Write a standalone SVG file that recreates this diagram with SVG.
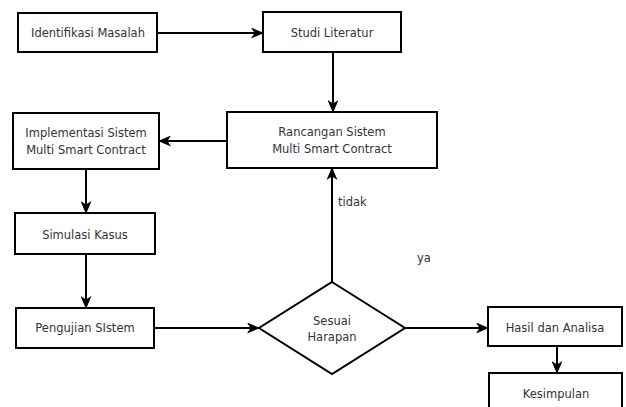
<svg xmlns="http://www.w3.org/2000/svg" width="626" height="407" viewBox="0 0 626 407">
<defs>
<marker id="arr" viewBox="0 0 13 11" refX="12" refY="5.5" markerWidth="13" markerHeight="11" markerUnits="userSpaceOnUse" orient="auto">
<path d="M0,0 L13,5.5 L0,11 L3.5,5.5 Z" fill="#000"/>
</marker>
</defs>
<style>
.box{fill:#fff;stroke:#000;stroke-width:2}
.t{font-family:"DejaVu Sans",Verdana,sans-serif;font-size:11.5px;fill:#333;text-anchor:middle;dominant-baseline:central}
.c{stroke:#000;stroke-width:2;fill:none;marker-end:url(#arr)}
</style>
<rect width="626" height="407" fill="#fff"/>
<g id="connectors">
<line class="c" x1="157" y1="33" x2="263" y2="33"/>
<line class="c" x1="333" y1="52" x2="333" y2="112"/>
<line class="c" x1="227" y1="141" x2="159" y2="141"/>
<line class="c" x1="86" y1="169" x2="86" y2="213"/>
<line class="c" x1="86" y1="254" x2="86" y2="308"/>
<line class="c" x1="154" y1="328" x2="259" y2="328"/>
<line class="c" x1="332" y1="282" x2="332" y2="168"/>
<line class="c" x1="405" y1="328" x2="488" y2="328"/>
<line class="c" x1="557" y1="346" x2="557" y2="373"/>
<text class="t" x="338" y="202" style="text-anchor:start">tidak</text>
<text class="t" x="417" y="258" style="text-anchor:start">ya</text>
</g>
<g id="identifikasi">
<rect class="box" x="18" y="13" width="139" height="39"/>
<text class="t" x="88" y="33">Identifikasi Masalah</text>
</g>
<g id="studi">
<rect class="box" x="263" y="12" width="138" height="40"/>
<text class="t" x="332" y="33">Studi Literatur</text>
</g>
<g id="rancangan">
<rect class="box" x="227" y="112" width="210" height="56"/>
<text class="t" x="332" y="132">Rancangan Sistem</text>
<text class="t" x="332" y="149">Multi Smart Contract</text>
</g>
<g id="implementasi">
<rect class="box" x="13" y="113" width="146" height="56"/>
<text class="t" x="86" y="133">Implementasi Sistem</text>
<text class="t" x="86" y="150">Multi Smart Contract</text>
</g>
<g id="simulasi">
<rect class="box" x="15" y="213" width="140" height="41"/>
<text class="t" x="85" y="235">Simulasi Kasus</text>
</g>
<g id="pengujian">
<rect class="box" x="16" y="308" width="138" height="40"/>
<text class="t" x="85" y="328">Pengujian SIstem</text>
</g>
<g id="sesuai">
<polygon class="box" points="332,282 405,328 332,374 259,328"/>
<text class="t" x="332" y="321">Sesuai</text>
<text class="t" x="332" y="337">Harapan</text>
</g>
<g id="hasil">
<rect class="box" x="488" y="307" width="134" height="39"/>
<text class="t" x="555" y="328">Hasil dan Analisa</text>
</g>
<g id="kesimpulan">
<rect class="box" x="489" y="373" width="133" height="40"/>
<text class="t" x="556" y="394">Kesimpulan</text>
</g>
</svg>
